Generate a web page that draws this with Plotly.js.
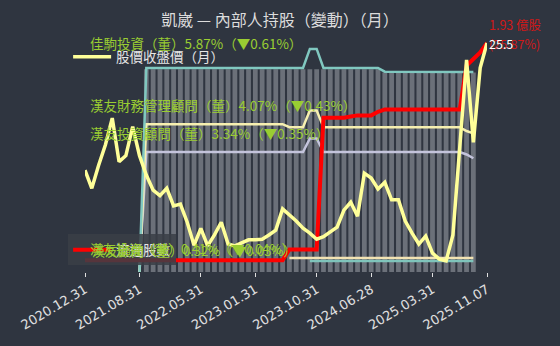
<!DOCTYPE html>
<html>
<head>
<meta charset="utf-8">
<script src="https://cdn.plot.ly/plotly-3.0.1.min.js"></script>
<style>
html,body{margin:0;padding:0;background:#2f3540;}
#chart{width:560px;height:346px;}
</style>
</head>
<body>
<div id="chart"></div>
<script>
// ---- data ----
const dates = [
 '2020.12.31',
 '2021.01.29','2021.02.26','2021.03.31','2021.04.30','2021.05.31','2021.06.30','2021.07.30','2021.08.31','2021.09.30','2021.10.29','2021.11.30','2021.12.30',
 '2022.01.26','2022.02.25','2022.03.31','2022.04.29','2022.05.31','2022.06.30','2022.07.29','2022.08.31','2022.09.30','2022.10.31','2022.11.30','2022.12.30',
 '2023.01.31','2023.02.24','2023.03.31','2023.04.28','2023.05.31','2023.06.30','2023.07.31','2023.08.31','2023.09.28','2023.10.31','2023.11.30','2023.12.29',
 '2024.01.31','2024.02.29','2024.03.29','2024.04.30','2024.05.31','2024.06.28','2024.07.31','2024.08.30','2024.09.30','2024.10.30','2024.11.29','2024.12.31',
 '2025.01.22','2025.02.27','2025.03.31','2025.04.30','2025.05.29','2025.06.30','2025.07.31','2025.08.29','2025.09.30','2025.10.31','2025.11.07'
];
const tickLabels = ['2020.12.31','2021.08.31','2022.05.31','2023.01.31','2023.10.31','2024.06.28','2025.03.31','2025.11.07'];

// 股價收盤價（月）
const price = [15.0,13.5,15.4,17.1,19.3,15.7,16.2,18.6,16.2,14.6,
 13.35,12.9,13.5,12.05,12.2,10.7,8.8,10.2,8.75,9.65,
 10.7,8.9,8.75,9.0,9.25,9.25,9.3,9.65,10.05,11.8,
 11.3,10.8,10.2,9.8,9.3,9.5,9.9,10.3,11.7,12.35,
 11.2,14.75,14.35,13.45,14.0,12.55,12.55,10.8,9.8,8.9,
 9.55,8.15,7.65,7.5,9.65,16.7,24.1,17.3,23.45,25.5];

// 流通股數（億股）
const floatShares = [0.10,0.10,0.10,0.10,0.10,0.10,0.10,0.10,0.10,0.10,
 0.10,0.10,0.10,0.10,0.10,0.10,0.10,0.10,0.10,0.10,
 0.10,0.10,0.10,0.10,0.10,0.10,0.10,0.10,0.10,0.10,
 0.19,0.19,0.19,0.19,0.19,1.30,1.30,1.30,1.30,1.31,
 1.32,1.32,1.32,1.35,1.37,1.37,1.37,1.37,1.37,1.37,
 1.37,1.37,1.37,1.37,1.37,1.37,1.74,1.79,1.85,1.93];

// holders (%), from 2021.08.31 (index 8) to 2025.10.31 (index 57)
const jiaju = [0,
 5.99,5.99,5.99,5.99,5.99,5.99,5.99,5.99,5.99,5.99,5.99,5.99,5.99,5.99,5.99,5.99,5.99,5.99,5.99,5.99,5.99,5.99,5.99,5.99,
 6.55,6.55,
 5.99,5.99,5.99,5.99,5.99,5.99,5.99,5.99,5.99,
 5.88,5.88,5.88,5.88,5.88,5.88,5.88,5.88,5.88,5.88,5.88,5.88,5.88,
 5.87];
const hanyouFin = [0,
 4.34,4.34,4.34,4.34,4.34,4.34,4.34,4.34,4.34,4.34,4.34,4.34,4.34,4.34,4.34,4.34,4.34,4.34,4.34,4.34,4.34,
 4.25,4.25,4.25,
 4.74,4.74,
 4.25,4.25,4.25,4.25,4.25,4.25,4.25,4.25,4.25,4.25,4.25,4.25,4.25,4.25,4.25,4.25,4.25,4.25,4.25,4.25,4.25,
 4.14,4.07];
const hanyouInv = [0,
 3.52,3.52,3.52,3.52,3.52,3.52,3.52,3.52,3.52,3.52,3.52,3.52,3.52,3.52,3.52,3.52,3.52,3.52,3.52,3.52,3.52,3.52,3.52,3.52,
 3.92,3.92,
 3.52,3.52,3.52,3.52,3.52,3.52,3.52,3.52,3.52,3.52,3.52,3.52,3.52,3.52,3.52,3.52,3.52,3.52,3.52,3.52,3.52,
 3.45,3.34];
// small holders, from index 30 and index 33
const smallA = [0.41,0.41,0.41,0.41,0.41,0.41,0.41,0.41,0.41,0.41,0.41,0.41,0.41,0.41,0.41,0.41,0.41,0.41,0.41,0.41,0.41,0.41,0.41,0.41,0.41,0.41,0.41,0.41];
const smallB = [0.32,0.32,0.32,0.32,0.32,0.32,0.32,0.32,0.32,0.32,0.32,0.32,0.32,0.32,0.32,0.32,0.32,0.32,0.32,0.32,0.32,0.32,0.32,0.32,0.32];
// insider total bars (%), index 9..57
const barVals = [5.95,5.95,5.95,5.95,5.95,5.95,5.95,5.95,5.95,5.95,
 5.95,5.95,5.95,5.95,5.95,5.95,5.95,5.95,5.95,5.95,
 5.95,5.95,5.95,5.95,5.95,5.95,5.95,5.95,5.95,5.95,
 5.95,5.95,5.95,5.95,5.95,
 5.86,5.86,5.86,5.86,5.86,5.86,5.86,5.86,5.86,5.86,5.86,5.86,5.86,5.86];

const labels = [
 {t:'佳駒投資（董）5.87%（▼0.61%）', y:0.987},
 {t:'漢友財務管理顧問（董）4.07%（▼0.43%）', y:0.72},
 {t:'漢友投資顧問（董）3.34%（▼0.35%）', y:0.599}
];
const smallLabels = ['漢友投資（董）0.41%（▼0.04%）','漢友顧問（董）0.32%（▼0.03%）'];

const FONT = 'Noto Sans CJK TC, Noto Sans, sans-serif';
const GREEN = 'rgb(154,205,50)';

const traces = [
 {type:'bar', x:dates.slice(9,58), y:barVals, marker:{color:'#6b7079'}, showlegend:false, hoverinfo:'skip'},
 {type:'scatter', mode:'lines', x:dates.slice(30,58), y:smallA, line:{color:'#f3e3b3',width:2.5}, showlegend:false},
 {type:'scatter', mode:'lines', x:dates.slice(33,58), y:smallB, line:{color:'#7fc4bb',width:2.5}, showlegend:false},
 {type:'scatter', mode:'lines', x:dates.slice(8,58), y:hanyouInv, line:{color:'#c4c4dc',width:2.5}, showlegend:false},
 {type:'scatter', mode:'lines', x:dates.slice(8,58), y:hanyouFin, line:{color:'#f7f0b0',width:2.5}, showlegend:false},
 {type:'scatter', mode:'lines', x:dates.slice(8,58), y:jiaju, line:{color:'#80c8c0',width:2.5}, showlegend:false},
 {type:'scatter', mode:'lines', name:'流通股數', x:dates, y:floatShares, yaxis:'y2', line:{color:'#ff0000',width:4}, legend:'legend2'},
 {type:'scatter', mode:'lines', name:'股價收盤價（月）', x:dates, y:price, yaxis:'y3', line:{color:'#ffff99',width:3.5}, legend:'legend'}
];

const annotations = [];
labels.forEach(l => annotations.push({xref:'paper', yref:'paper', x:0.0075, y:l.y, xanchor:'left', yanchor:'middle',
  text:l.t, showarrow:false, font:{family:FONT, size:13.5, color:GREEN}}));
smallLabels.forEach((t,i) => annotations.push({xref:'paper', yref:'paper', x:0.0075 + i*0.006, y:0.103 - i*0.01, xanchor:'left', yanchor:'middle',
  text:t, showarrow:false, font:{family:FONT, size:13, color:GREEN}}));
annotations.push({xref:'paper', yref:'paper', x:1, y:1.065, xanchor:'left', yanchor:'middle', text:'1.93 億股', showarrow:false,
  font:{family:FONT, size:12.5, color:'#d01818'}});
annotations.push({xref:'paper', yref:'paper', x:1, y:0.987, xanchor:'left', yanchor:'middle', text:'(25.87%)', showarrow:false,
  font:{family:FONT, size:12.5, color:'#d01818'}});
annotations.push({xref:'paper', yref:'paper', x:1, y:0.987, xanchor:'left', yanchor:'middle', text:'25.5', showarrow:false,
  font:{family:FONT, size:12.5, color:'#ffffff'}});

const layout = {
 width:560, height:346,
 paper_bgcolor:'#2f3540', plot_bgcolor:'#2f3540',
 margin:{l:85, r:73, t:40, b:74},
 font:{family:FONT, color:'#e0e0e0'},
 title:{text:'凱崴 — 內部人持股（變動）（月）', x:0.5, xanchor:'center', y:0.94, yanchor:'middle',
   font:{family:FONT, size:16, color:'#dcdcdc'}},
 bargap:0.3,
 xaxis:{type:'category', categoryorder:'array', categoryarray:dates, range:[0,59],
   tickvals:tickLabels, ticktext:tickLabels, tickangle:-31,
   ticks:'outside', ticklen:4, tickcolor:'#e0e0e0', showgrid:false, zeroline:false, showline:false,
   tickfont:{family:'DejaVu Sans, sans-serif', size:13, color:'#e0e0e0'}},
 yaxis:{range:[0,6.811], visible:false, showgrid:false, zeroline:false},
 yaxis2:{range:[0,1.9553], overlaying:'y', visible:false, showgrid:false, zeroline:false},
 yaxis3:{range:[6.59,25.75], overlaying:'y', visible:false, showgrid:false, zeroline:false},
 legend:{x:-0.042, y:0.927, xanchor:'left', yanchor:'middle', bgcolor:'rgba(0,0,0,0)', itemwidth:38,
   font:{family:FONT, size:13.5, color:'#e6e6e6'}},
 legend2:{x:-0.042, y:0.095, xanchor:'left', yanchor:'middle', bgcolor:'rgba(58,62,70,0.85)', itemwidth:38,
   font:{family:FONT, size:13.5, color:'#e6e6e6'}},
 annotations:annotations
};

Plotly.newPlot('chart', traces, layout, {staticPlot:true, displayModeBar:false});
</script>
</body>
</html>
